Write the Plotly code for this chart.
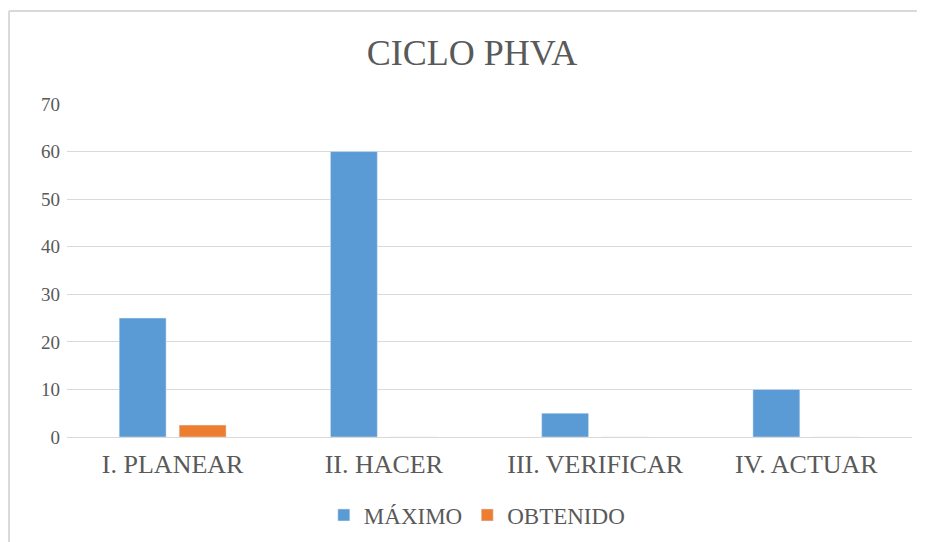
import plotly.graph_objects as go

categories = ["I. PLANEAR", "II. HACER", "III. VERIFICAR", "IV. ACTUAR"]
maximo = [25, 60, 5, 10]
obtenido = [2.5, 0, 0, 0]
y_ticks = [0, 10, 20, 30, 40, 50, 60, 70]

FONT = "'Liberation Serif', 'Times New Roman', serif"
TXT = "#595959"
GRID = "#d9d9d9"

fig = go.Figure()
fig.add_trace(go.Bar(name="MÁXIMO", x=categories, y=maximo, marker_color="#5b9bd5"))
fig.add_trace(go.Bar(name="OBTENIDO", x=categories, y=obtenido, marker_color="#ed7d31"))

fig.update_layout(
    width=917, height=534,
    paper_bgcolor="white", plot_bgcolor="white",
    margin=dict(l=59, r=13, t=96, b=105),
    barmode="group", bargap=0.432, bargroupgap=0.218,
    font=dict(family=FONT, color=TXT),
    title=dict(text="CICLO PHVA", x=0.506, xanchor="center", y=1 - 44 / 534, yanchor="middle",
               font=dict(family=FONT, size=36, color=TXT)),
    legend=dict(orientation="h", x=0.485, xanchor="center", yref="container", y=1 - 507 / 534,
                yanchor="middle", font=dict(family=FONT, size=23, color=TXT), itemwidth=30,
                traceorder="normal"),
    showlegend=True,
)
fig.update_yaxes(range=[0, 70], tickvals=y_ticks, showgrid=True, gridcolor=GRID, gridwidth=1,
                 zeroline=False, showline=False, ticks="", automargin=False,
                 tickfont=dict(family=FONT, size=19, color=TXT), ticklabelstandoff=6)
fig.update_xaxes(showline=True, linecolor=GRID, linewidth=1, ticks="", automargin=False,
                 tickfont=dict(family=FONT, size=26, color=TXT), ticklabelstandoff=4)

# outer chart border (top and left edges visible in the reference)
fig.add_shape(type="line", xref="paper", yref="paper", x0=-0.0686, x1=1.02, y0=1.279, y1=1.279,
              line=dict(color=GRID, width=2))
fig.add_shape(type="line", xref="paper", yref="paper", x0=-0.0686, x1=-0.0686, y0=1.279, y1=-0.32,
              line=dict(color=GRID, width=2))

fig.write_html("out.html")
